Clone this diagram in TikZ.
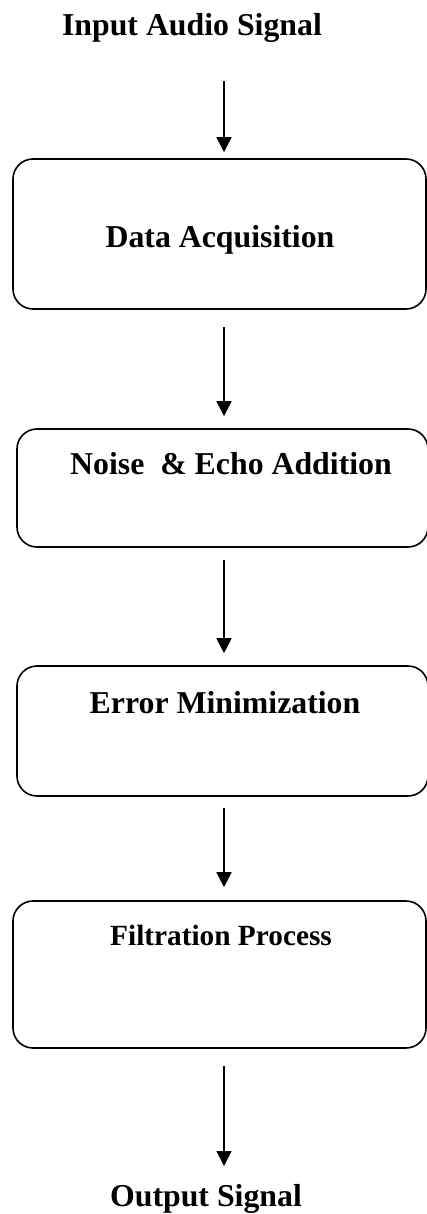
\documentclass[tikz,border=0pt]{standalone}
\usepackage{fontspec}
\setmainfont{Liberation Serif}
\usetikzlibrary{arrows.meta}

\tikzset{
  stage/.style={draw, line width=1.6pt, rounded corners=20pt, inner sep=0pt},
  lbl/.style={anchor=base, inner sep=0pt, font=\fontsize{31.8}{38}\selectfont\bfseries},
  smalllbl/.style={anchor=base, inner sep=0pt, font=\fontsize{29.3}{35}\selectfont\bfseries},
  flow/.style={line width=1.8pt, -{Triangle[width=15pt,length=15pt]}}
}

\begin{document}
\begin{tikzpicture}[x=1pt, y=-1pt]
  \useasboundingbox (0,0) rectangle (427,1214);

  % vertical line along which all arrows run
  \coordinate (spine) at (224,0);

  % terminals
  \node[lbl] (in)  at (192,36)   {Input Audio Signal};
  \node[lbl] (out) at (206,1206) {Output Signal};

  % processing stages
  \node[stage, minimum width=413pt, minimum height=150pt] (b1) at (219.5,234) {};
  \node[stage, minimum width=411pt, minimum height=118pt] (b2) at (222.5,488) {};
  \node[stage, minimum width=411pt, minimum height=130pt] (b3) at (222.5,731) {};
  \node[stage, minimum width=413pt, minimum height=147pt] (b4) at (219.5,974.5) {};

  % stage captions
  \node[lbl]      (t1) at (220,248) {Data Acquisition};
  \node[lbl]      (t2) at (231,474) {Noise\ \ \& Echo Addition};
  \node[lbl]      (t3) at (225,713) {Error Minimization};
  \node[smalllbl] (t4) at (221,945) {Filtration Process};

  % flow arrows
  \draw[flow, shorten <=45pt, shorten >=6pt]  (in.base -| spine) -- (b1.north -| spine);
  \draw[flow, shorten <=17pt, shorten >=12pt] (b1.south -| spine) -- (b2.north -| spine);
  \draw[flow, shorten <=12pt, shorten >=12pt] (b2.south -| spine) -- (b3.north -| spine);
  \draw[flow, shorten <=11pt, shorten >=13pt] (b3.south -| spine) -- (b4.north -| spine);
  \draw[flow, shorten <=17pt, shorten >=40pt] (b4.south -| spine) -- (out.base -| spine);
\end{tikzpicture}
\end{document}
